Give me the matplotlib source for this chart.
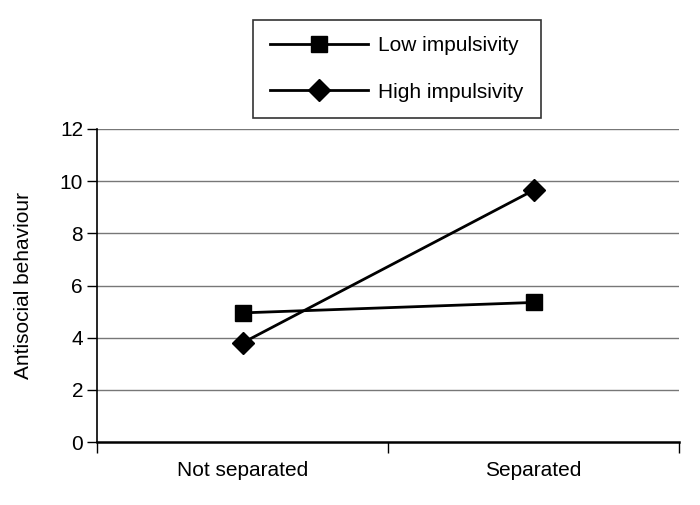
import matplotlib
matplotlib.use("Agg")
import matplotlib.pyplot as plt
from matplotlib import font_manager

categories = ["Not separated", "Separated"]
low_impulsivity = [4.95, 5.35]
high_impulsivity = [3.8, 9.65]
yticks = [0, 2, 4, 6, 8, 10, 12]

names = {f.name for f in font_manager.fontManager.ttflist}
fam = "Liberation Sans Narrow" if "Liberation Sans Narrow" in names else "Liberation Sans"
plt.rcParams["font.family"] = [fam, "DejaVu Sans"]

fig = plt.figure(figsize=(7.0, 5.05), dpi=100)
ax = fig.add_axes([97/700, 63/505, 582/700, 313/505])

x = list(range(len(categories)))
l1, = ax.plot(x, low_impulsivity, color="black", lw=2.0, marker="s", ms=11, label="Low impulsivity", clip_on=False)
l2, = ax.plot(x, high_impulsivity, color="black", lw=2.0, marker="D", ms=11, label="High impulsivity", clip_on=False)

ax.set_xlim(-0.5, len(categories) - 0.5)
ax.set_ylim(0, 12)
ax.set_yticks(yticks)
ax.set_yticklabels([str(v) for v in yticks], fontsize=15)
ax.set_xticks(x)
ax.set_xticklabels(categories, fontsize=15)
ax.tick_params(axis="x", which="major", length=0, pad=14)
ax.set_xticks([-0.5 + i for i in range(len(categories) + 1)], minor=True)
ax.tick_params(axis="x", which="minor", length=8, width=1, direction="out")
ax.tick_params(axis="y", length=7, width=1, direction="out", pad=3)

for v in yticks[1:]:
    ax.axhline(v, color="#777777", lw=1, zorder=0)

for s in ["top", "right"]:
    ax.spines[s].set_visible(False)
ax.spines["left"].set_linewidth(1.2)
ax.spines["bottom"].set_linewidth(1.8)

ax.set_ylabel("Antisocial behaviour", fontsize=15, labelpad=19)

leg = fig.legend(handles=[l1, l2], loc="center",
                 bbox_to_anchor=(397/700, 1 - 69/505),
                 fontsize=15, frameon=True, fancybox=False,
                 edgecolor="black", handlelength=4.7, handletextpad=0.5,
                 borderpad=0.8, labelspacing=1.3, borderaxespad=0)
leg.get_frame().set_linewidth(1.2)

fig.savefig("out.png", dpi=100)
